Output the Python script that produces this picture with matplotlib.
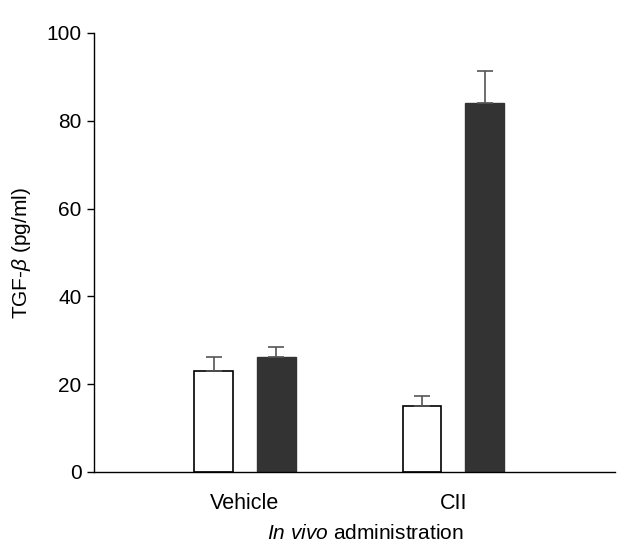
import matplotlib
matplotlib.use("Agg")
import matplotlib.pyplot as plt
import numpy as np

plt.rcParams['font.family'] = ['Liberation Sans', 'DejaVu Sans']
plt.rcParams['mathtext.fontset'] = 'custom'
plt.rcParams['mathtext.rm'] = 'Liberation Sans'
plt.rcParams['mathtext.it'] = 'Liberation Sans:italic'

groups = ['Vehicle', 'CII']
white_vals = [22.9, 15.0]
white_err = [3.2, 2.2]
dark_vals = [26.2, 84.1]
dark_err = [2.3, 7.3]
yticks = [0, 20, 40, 60, 80, 100]

fig = plt.figure(figsize=(6.21, 5.49), dpi=100)
ax = fig.add_axes([0.1514, 0.1403, 0.839, 0.7996])

x = np.arange(len(groups))
w = 0.185
off = 0.15
ekw = dict(ecolor='#555555', elinewidth=1.2, capsize=6, capthick=1.2)
ax.bar(x - off, white_vals, w, color='white', edgecolor='black', linewidth=1.2,
       yerr=[np.zeros(2), white_err], error_kw=ekw, zorder=2)
ax.bar(x + off, dark_vals, w, color='#333333', edgecolor='#333333', linewidth=1.0,
       yerr=[np.zeros(2), dark_err], error_kw=ekw, zorder=2)

ax.set_xlim(-0.724, 1.775)
ax.set_ylim(0, 100)
ax.set_yticks(yticks)
ax.set_xticks(x)
ax.set_xticklabels(groups, fontsize=15.5)
ax.tick_params(axis='x', length=0, pad=15)
ax.tick_params(axis='y', length=5, width=1, labelsize=15, pad=4, direction='out')
for s in ['top', 'right']:
    ax.spines[s].set_visible(False)
for s in ['left', 'bottom']:
    ax.spines[s].set_linewidth(1.0)

ax.set_ylabel(r'TGF-$\it{\beta}$ (pg/ml)', fontsize=15, labelpad=10)
ax.set_xlabel(r'$\it{In\ vivo}$ administration', fontsize=15, labelpad=9)
ax.xaxis.set_label_coords(0.52, -0.118)

fig.savefig('out.png', dpi=100)
